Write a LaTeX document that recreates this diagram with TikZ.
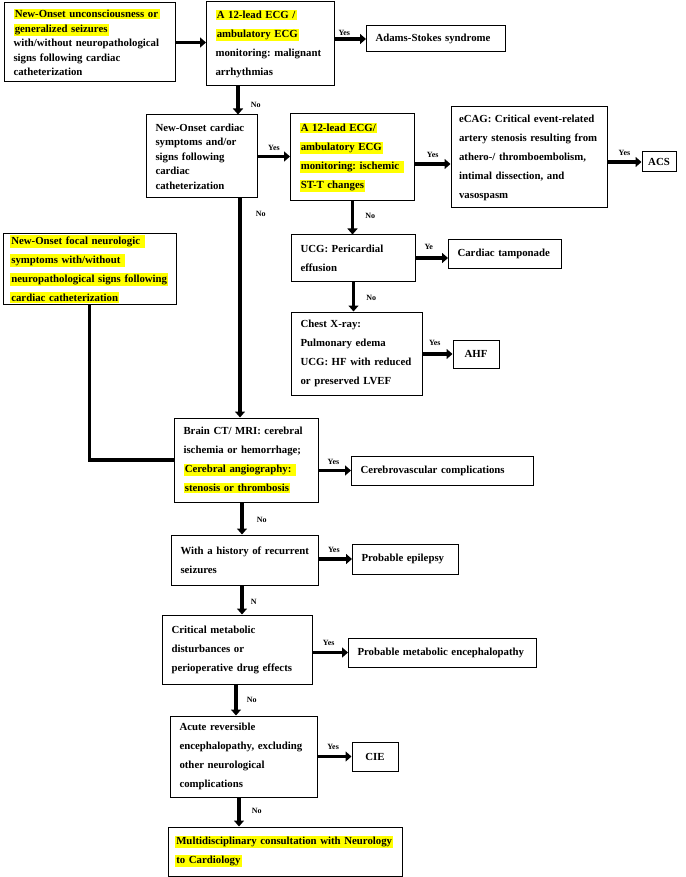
\documentclass[tikz,border=0pt]{standalone}
\usepackage{fontspec}
\setmainfont{Liberation Serif}
\usetikzlibrary{arrows.meta,calc,positioning}
\definecolor{hlyellow}{HTML}{FFFF00}
\newcommand{\hlt}[1]{{\setlength{\fboxsep}{1.3pt}\colorbox{hlyellow}{#1}}}
\frenchspacing

\begin{document}
\begin{tikzpicture}[x=1pt,y=-1pt,
    stepbox/.style={draw,line width=1pt,align=left,inner xsep=9pt,inner ysep=2pt,
      font=\fontsize{10.8}{19}\selectfont\bfseries},
    tight/.style={font=\fontsize{10.8}{14.5}\selectfont\bfseries},
    flow/.style={-{Triangle[length=6pt,width=10pt]},line width=3.5pt},
    link/.style={line width=3.5pt},
    answer/.style={font=\fontsize{8}{9}\selectfont\bfseries,inner sep=1pt}
  ]
    \useasboundingbox (0,0) rectangle (685,877);

    % top row
    \node[stepbox,tight,minimum width=170pt,minimum height=79pt,text width=153pt] (onset) at (90,42.5)
      {\hlt{New-Onset unconsciousness or}\\ \hlt{generalized seizures}\\ with/without neuropathological\\ signs following cardiac\\ catheterization};
    \node[stepbox,minimum width=127pt,minimum height=84pt,text width=110pt] (ecgarr) at (270.5,44)
      {\hlt{A 12-lead ECG /}\\ \hlt{ambulatory ECG}\\ monitoring: malignant\\ arrhythmias};
    \node[stepbox,minimum width=138pt,minimum height=26pt,text width=121pt] (adams) at (436,39) {Adams-Stokes syndrome};

    % cardiac branch
    \node[stepbox,tight,minimum width=110pt,minimum height=83pt,text width=93pt] (cardiac) at (202,156.5)
      {New-Onset cardiac\\ symptoms and/or\\ signs following\\ cardiac\\ catheterization};
    \node[stepbox,minimum width=123pt,minimum height=87pt,text width=106pt] (ecgst) at (352.5,157.5)
      {\hlt{A 12-lead ECG/}\\ \hlt{ambulatory ECG}\\ \hlt{monitoring: ischemic\ }\\ \hlt{ST-T changes}};
    \node[stepbox,minimum width=156pt,minimum height=101pt,text width=140pt,inner xsep=8pt] (ecag) at (529,157.5)
      {eCAG: Critical event-related\\ artery stenosis resulting from\\ athero-/ thromboembolism,\\ intimal dissection, and\\ vasospasm};
    \node[stepbox,inner xsep=4pt,minimum width=34pt,minimum height=20pt] (acs) at (659,162) {ACS};
    \node[stepbox,minimum width=123pt,minimum height=46pt,text width=106pt] (ucg) at (353.5,258)
      {UCG: Pericardial\\ effusion};
    \node[stepbox,minimum width=112pt,minimum height=29pt,text width=95pt] (tamponade) at (505,253.5) {Cardiac tamponade};
    \node[stepbox,minimum width=130pt,minimum height=83pt,text width=113pt] (xray) at (357,353.5)
      {Chest X-ray:\\ Pulmonary edema\\ UCG: HF with reduced\\ or preserved LVEF};
    \node[stepbox,inner xsep=4pt,minimum width=46pt,minimum height=28pt] (ahf) at (476,354) {AHF};

    % neurologic branch
    \node[stepbox,minimum width=173pt,minimum height=58pt,text width=159pt,inner xsep=7pt] (focal) at (89.5,269)
      {\hlt{New-Onset focal neurologic\ }\\ \hlt{symptoms with/without\ }\\ \hlt{neuropathological signs following}\\ \hlt{cardiac catheterization}};
    \node[stepbox,minimum width=143pt,minimum height=84pt,text width=126pt] (brain) at (246.5,460)
      {Brain CT/ MRI: cerebral\\ ischemia or hemorrhage;\\ \hlt{Cerebral angiography:\ }\\ \hlt{stenosis or thrombosis}};
    \node[stepbox,minimum width=181pt,minimum height=29pt,text width=164pt] (cereb) at (442.5,470.5) {Cerebrovascular complications};
    \node[stepbox,minimum width=146pt,minimum height=50pt,text width=129pt] (history) at (245,560)
      {With a history of recurrent\\ seizures};
    \node[stepbox,minimum width=105pt,minimum height=30pt,text width=88pt] (epilepsy) at (405.5,559) {Probable epilepsy};
    \node[stepbox,minimum width=149pt,minimum height=69pt,text width=132pt] (metabolic) at (237.5,649.5)
      {Critical metabolic\\ disturbances or\\ perioperative drug effects};
    \node[stepbox,minimum width=187pt,minimum height=29pt,text width=170pt] (encephalo) at (442.5,652.5) {Probable metabolic encephalopathy};
    \node[stepbox,minimum width=146pt,minimum height=81pt,text width=129pt] (acute) at (244,756.5)
      {Acute reversible\\ encephalopathy, excluding\\ other neurological\\ complications};
    \node[stepbox,inner xsep=4pt,minimum width=46pt,minimum height=29pt] (cie) at (375,756.5) {CIE};
    \node[stepbox,minimum width=234pt,minimum height=49pt,text width=220pt,inner xsep=7pt] (consult) at (285,851.5)
      {\hlt{Multidisciplinary consultation with Neurology}\\ \hlt{to Cardiology}};

    % connectors
    \draw[flow] (onset.east) -- (onset.east -| ecgarr.west);
    \draw[flow] (ecgarr.east |- adams) -- node[answer,above=1pt,pos=0.3] {Yes} (adams.west);
    \draw[flow] ($(ecgarr.south)+(-32.5,0)$) coordinate (ecgno) -- node[answer,right=10pt,pos=0.65] {No} (ecgno |- cardiac.north);
    \draw[flow] (cardiac.east) -- node[answer,above=3pt] {Yes} (cardiac.east -| ecgst.west);
    \draw[flow] ($(ecgst.east)+(0,6.5)$) coordinate (ecgyes) -- node[answer,above=4pt] {Yes} (ecgyes -| ecag.west);
    \draw[flow] (ecag.east |- acs) -- node[answer,above=4pt] {Yes} (acs.west);
    \draw[flow] (ecgst.south) -- node[answer,right=10pt,pos=0.45] {No} (ecgst.south |- ucg.north);
    \draw[flow] (ucg.east) -- node[answer,above=6pt,pos=0.4] {Ye} (ucg.east -| tamponade.west);
    \draw[flow] (ucg.south) -- node[answer,right=10pt,pos=0.55] {No} (ucg.south |- xray.north);
    \draw[flow] (xray.east |- ahf) -- node[answer,above=6pt,pos=0.4] {Yes} (ahf.west);
    \draw[flow] ($(cardiac.south)+(38,0)$) coordinate (cardno) -- node[answer,right=13pt,pos=0.07] {No} (cardno |- brain.north);
    \draw[link] (focal.south) |- (brain.west);
    \draw[flow] (brain.east |- cereb) -- node[answer,above=3pt,pos=0.45] {Yes} (cereb.west);
    \draw[flow] ($(brain.south)+(-4.5,0)$) coordinate (brainno) -- node[answer,right=12pt,pos=0.55] {No} (brainno |- history.north);
    \draw[flow] (history.east |- epilepsy) -- node[answer,above=4pt,pos=0.45] {Yes} (epilepsy.west);
    \draw[flow] ($(history.south)+(-3,0)$) coordinate (histno) -- node[answer,right=6pt,pos=0.55] {N} (histno |- metabolic.north);
    \draw[flow] (metabolic.east |- encephalo) -- node[answer,above=4pt,pos=0.45] {Yes} (encephalo.west);
    \draw[flow] ($(metabolic.south)+(-1.5,0)$) coordinate (metano) -- node[answer,right=8pt,pos=0.5] {No} (metano |- acute.north);
    \draw[flow] (acute.east) -- node[answer,above=4pt,pos=0.45] {Yes} (acute.east -| cie.west);
    \draw[flow] ($(acute.south)+(-5,0)$) coordinate (acuteno) -- node[answer,right=10pt,pos=0.45] {No} (acuteno |- consult.north);
  \end{tikzpicture}
\end{document}
